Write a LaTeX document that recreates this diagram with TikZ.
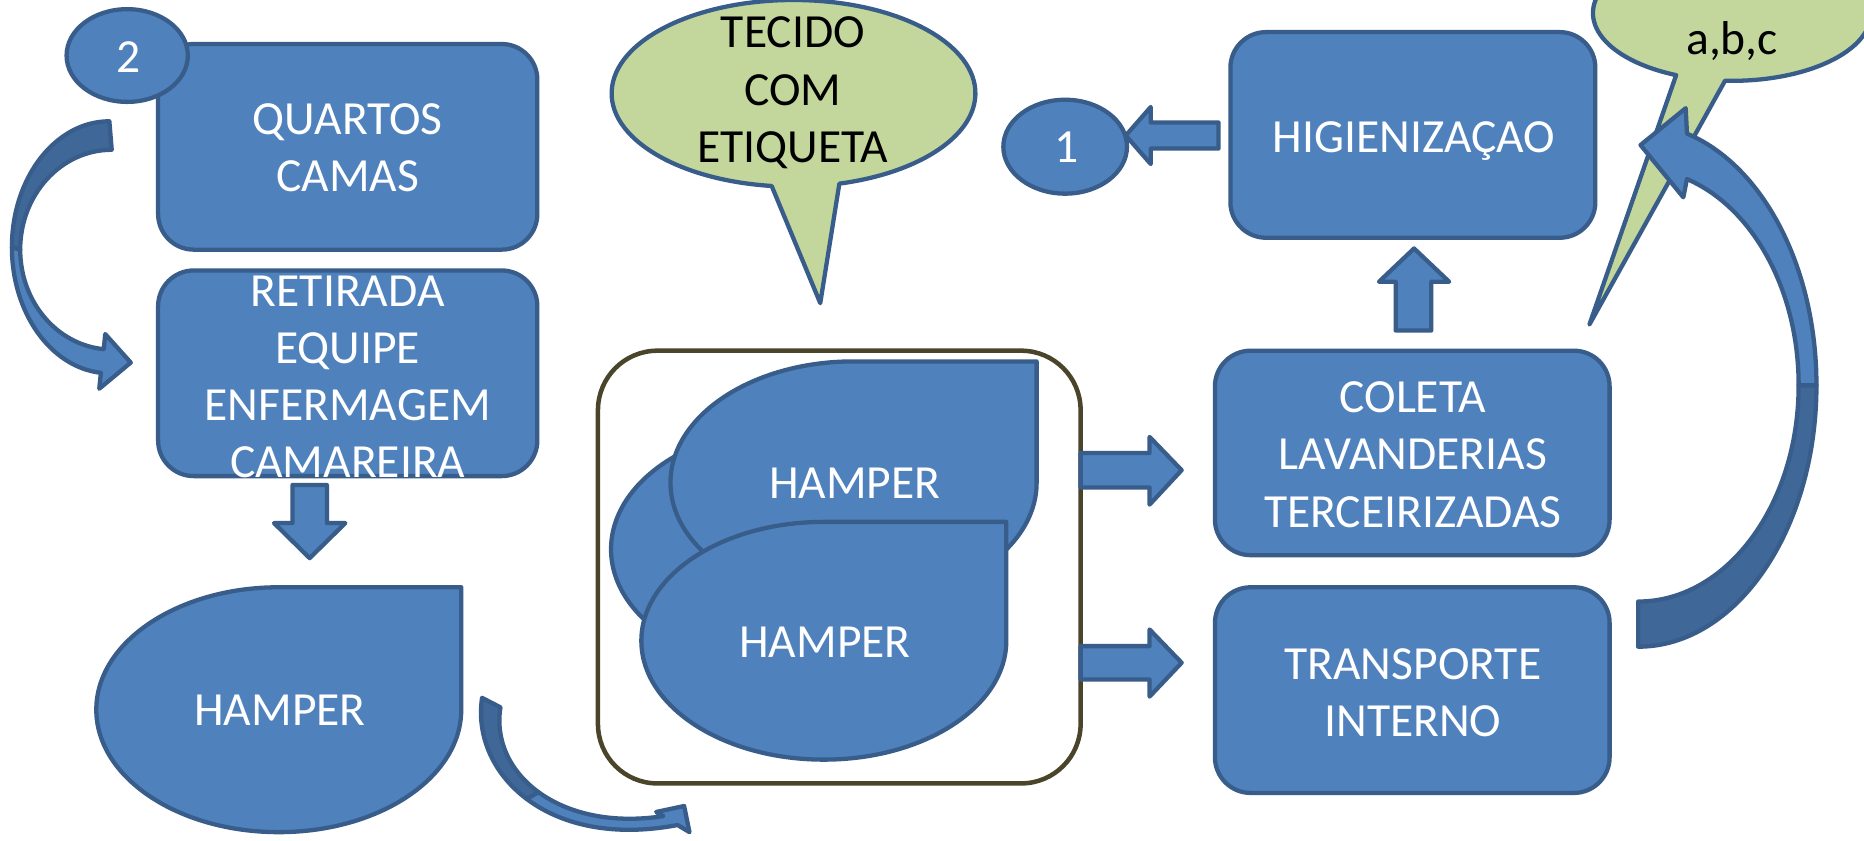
\documentclass[tikz,border=0pt]{standalone}
\usepackage{fontspec}
\setmainfont{Carlito}
\usetikzlibrary{shapes.geometric}
\definecolor{boxblue}{HTML}{4F81BD}
\definecolor{edgeblue}{HTML}{385D8A}
\definecolor{darkblue}{HTML}{3F6797}
\definecolor{bubgreen}{HTML}{C3D69B}
\definecolor{frameol}{HTML}{4A452A}
\newcommand{\tdrop}[4]{\draw[bluefill] ({#1},{#2-#4}) arc[start angle=270,end angle=0,x radius=#3,y radius=#4] -- ({#1+#3},{#2-#4}) -- cycle;}
\begin{document}
\begin{tikzpicture}[x=0.5pt,y=-0.5pt,
  shapeline/.style={draw=edgeblue,line width=1.8pt,line join=round},
  bluefill/.style={shapeline,fill=boxblue},
  darkfill/.style={shapeline,fill=darkblue},
  stepbox/.style={bluefill,rectangle,rounded corners=15pt,inner sep=0pt},
  blueell/.style={bluefill,ellipse,inner sep=0pt},
  bubble/.style={shapeline,fill=bubgreen},
  boxtext/.style={text=white,align=center,inner sep=0pt,font=\fontsize{20pt}{24pt}\selectfont},
  bubtext/.style={text=black,align=center,inner sep=0pt,font=\fontsize{20pt}{24pt}\selectfont},
  framebox/.style={draw=frameol,line width=1.9pt,fill=white,rectangle,rounded corners=25pt,inner sep=0pt}]
\useasboundingbox (0,0) rectangle (1568,707);
\fill[white] (0,0) rectangle (1568,707);
\clip (0,0) rectangle (1568,707);

% left curved arrow (2 -> retirada)
\draw[darkfill] (92,102) arc[start angle=270,end angle=180,x radius=82,y radius=106]
  -- (17,210) arc[start angle=180,end angle=270,x radius=77,y radius=84] -- cycle;
\draw[bluefill] (10,208) arc[start angle=180,end angle=95,x radius=82,y radius=106]
  -- (83.5,327) -- (110,305) -- (88.5,281) -- (87.3,293.7)
  arc[start angle=95,end angle=180,x radius=77,y radius=84] -- cycle;

% QUARTOS CAMAS
\node[stepbox,minimum width=159.5pt,minimum height=86.5pt] (qc) at (292.5,123.5) {};
\node[boxtext] (qct) at (292.5,124.5) {QUARTOS\\CAMAS};
\node[blueell,minimum width=51pt,minimum height=39pt] (c2) at (107,46.7) {};
\node[boxtext,anchor=base] (c2t) at (108,61) {2};

% RETIRADA
\node[stepbox,minimum width=159.5pt,minimum height=86.5pt] (ret) at (292.5,314) {};
\node[boxtext] (rett) at (292.5,316.8) {RETIRADA\\EQUIPE\\ENFERMAGEM\\CAMAREIRA};

% down arrow
\draw[bluefill] (246,408) -- (275,408) -- (275,440) -- (290.5,440) -- (260.5,469.5)
  -- (230.5,440) -- (246,440) -- cycle;

% HAMPER bottom left
\tdrop{234.5}{597}{153.5}{103}
\node[boxtext,anchor=base] (h0) at (235.5,610) {HAMPER};

% bottom curved arrow
\draw[darkfill] (405.5,587) .. controls (400.75,618.5) and (414.375,650.5) .. (442.94,672)
  -- (453.125,666.44) .. controls (428.75,648.75) and (416.5,622.5) .. (421,595) -- cycle;
\draw[bluefill] (442.94,672) .. controls (471.5,693.5) and (515,704.5) .. (570,694)
  -- (580,700) -- (575.5,678) -- (552,683) -- (558,686.5)
  .. controls (514,693.25) and (477.5,684.125) .. (453.125,666.44) -- cycle;

% frame with hampers
\node[framebox,minimum width=203pt,minimum height=182pt] (fr) at (706,477) {};
\tdrop{668}{462}{154}{103}
\tdrop{718}{406}{154}{102}
\node[boxtext,anchor=base] (h1) at (719,419) {HAMPER};
\tdrop{693}{539}{153.5}{100}
\node[boxtext,anchor=base] (h2) at (694,553) {HAMPER};

% right arrows
\draw[bluefill] (909,381) -- (967,381) -- (967,367.5) -- (994,395.5) -- (967,424.5)
  -- (967,410) -- (909,410) -- cycle;
\draw[bluefill] (909,543.5) -- (967,543.5) -- (967,529.5) -- (994,557.5) -- (967,586)
  -- (967,571.5) -- (909,571.5) -- cycle;

% COLETA, TRANSPORTE
\node[stepbox,minimum width=166pt,minimum height=86pt] (col) at (1188,381) {};
\node[boxtext] (colt) at (1188.5,382.5) {COLETA\\LAVANDERIAS\\TERCEIRIZADAS};
\node[stepbox,minimum width=166pt,minimum height=86.5pt] (tra) at (1188,580.5) {};
\node[boxtext] (trat) at (1188.5,582.8) {TRANSPORTE\\INTERNO};

% HIGIENIZACAO
\node[stepbox,minimum width=153.5pt,minimum height=86.5pt] (hig) at (1188.5,113.5) {};
\node[boxtext,anchor=base] (higt) at (1189.5,128.4) {HIGIENIZAÇAO};

% up arrow
\draw[bluefill] (1174,278) -- (1174,237) -- (1160,237) -- (1189.5,209) -- (1219,237)
  -- (1204,237) -- (1204,278) -- cycle;
% left arrow
\draw[bluefill] (1025,103) -- (968,103) -- (968,90) -- (947,114) -- (968,138)
  -- (968,125) -- (1025,125) -- cycle;
\node[blueell,minimum width=52pt,minimum height=39.5pt] (c1) at (896,123.4) {};
\node[boxtext,anchor=base] (c1t) at (897,136.6) {1};

% TECIDO bubble
\draw[bubble] ([shift={(667.5,78.5)}]96.9:153 and 78.5)
  arc[start angle=96.9,end angle=435.4,x radius=153,y radius=78.5] -- (690,255) -- cycle;
\node[bubtext] (tec) at (667,78) {TECIDO\\COM\\ETIQUETA};

% a,b,c bubble
\draw[bubble] ([shift={(1457,11)}]113.7:117 and 57)
  arc[start angle=113.7,end angle=452.9,x radius=117,y radius=57] -- (1337,273) -- cycle;
\node[bubtext,anchor=base] (abc) at (1457,45.5) {a,b,c};

% right curved arrow
\draw[darkfill] (1378,544) arc[start angle=90,end angle=0,x radius=150,y radius=220]
  -- (1513,324) arc[start angle=0,end angle=90,x radius=135,y radius=182] -- cycle;
\draw[bluefill] (1528,324) arc[start angle=360,end angle=285.9,x radius=150,y radius=220]
  -- (1418,91) -- (1380,122) -- (1416,166)
  -- ([shift={(1378,324)}]287.7:135 and 182)
  arc[start angle=287.7,end angle=360,x radius=135,y radius=182] -- cycle;
\end{tikzpicture}
\end{document}
